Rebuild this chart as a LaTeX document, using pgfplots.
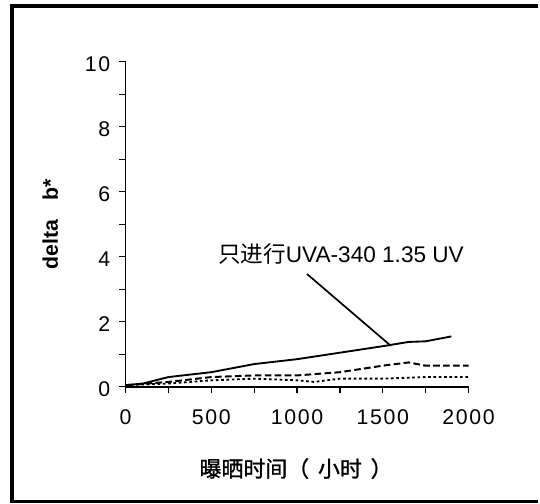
\documentclass[border=0pt]{standalone}
\usepackage{fontspec}
\setmainfont{Liberation Sans}
\newfontfamily\cjk{Noto Sans CJK SC}
\newfontfamily\cjkb[FakeBold=1.2]{Noto Sans CJK SC}
\usepackage{pgfplots}
\pgfplotsset{compat=1.18}
\begin{document}
\begin{tikzpicture}
\begin{axis}[
  at={(0pt,0pt)}, anchor=south west,
  scale only axis, width=258pt, height=244.5pt,
  xmin=0, xmax=2000, ymin=0, ymax=10,
  axis x line*=bottom, axis y line*=left,
  axis line style={line width=1.1pt},
  tick align=outside,
  major tick length=5pt, minor tick length=5pt,
  every tick/.style={black, line width=1pt},
  xtick={0,500,...,2000}, minor x tick num=1,
  ytick={0,2,...,10}, minor y tick num=1,
  /pgf/number format/assume math mode=true,
  /pgf/number format/1000 sep={},
  ticklabel style={font=\fontsize{16}{18}\selectfont\addfontfeatures{LetterSpace=8}},
  xticklabel style={yshift=-9pt},
  yticklabel style={xshift=-3pt, yshift=-2pt},
  xlabel={{\cjkb\fontsize{16.5}{19}\selectfont 曝晒时间（\hspace{0.4em}小时\hspace{0.4em}）}},
  ylabel={\bfseries\fontsize{16}{18}\selectfont delta\hspace{0.9em}b*},
  every axis x label/.style={at={(axis description cs:0.497,-0.2515)}, anchor=center},
  every axis y label/.style={at={(axis description cs:-0.22,0.5)}, rotate=90, anchor=center},
  clip=false,
]
\addplot[black, line width=1.4pt] coordinates {
 (0,0.05) (100,0.1) (250,0.3) (500,0.45) (750,0.7) (1000,0.85) (1250,1.05) (1500,1.25) (1650,1.38) (1750,1.4) (1900,1.55)
};
\addplot[black, line width=1.5pt, dash pattern=on 5pt off 2.5pt] coordinates {
 (0,0.05) (250,0.15) (500,0.3) (750,0.35) (1000,0.35) (1250,0.45) (1500,0.65) (1650,0.75) (1750,0.65) (2000,0.65)
};
\addplot[black, line width=1.4pt, dash pattern=on 2pt off 2pt] coordinates {
 (0,0.05) (250,0.1) (500,0.2) (750,0.25) (1000,0.2) (1100,0.15) (1250,0.25) (1500,0.25) (1750,0.3) (2000,0.3)
};
\draw[black, line width=1.3pt] (axis cs:1058,3.47) -- (axis cs:1547,1.26);
\node[anchor=center, inner sep=0pt] at (axis cs:1256,4.08) {\fontsize{17}{20}\selectfont{\cjk 只进行}UVA-340 1.35 UV};
\end{axis}
\draw[line width=2.5pt] (310.5pt,286.5pt) -- (-85.5pt,286.5pt) -- (-85.5pt,-86.25pt) -- (310.5pt,-86.25pt);
\useasboundingbox (-94.5pt,-87.75pt) rectangle (310.5pt,291pt);
\end{tikzpicture}
\end{document}
